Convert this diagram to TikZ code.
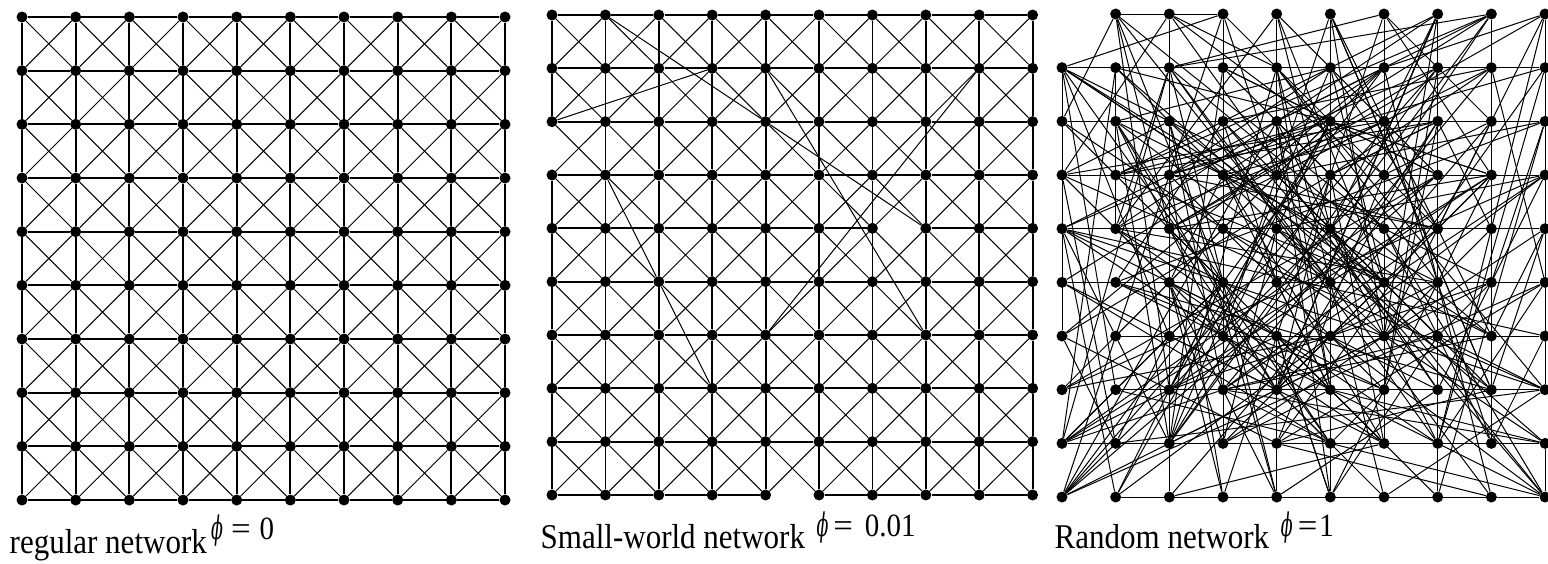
\documentclass[tikz,border=0pt]{standalone}
\usepackage{fontspec}
\setmainfont{Liberation Serif}
\newfontfamily\phifont{DejaVu Serif}
\newcommand{\phisym}{\scalebox{0.6}[1]{\phifont\itshape ϕ}}
\newcommand{\tallx}[1]{\scalebox{1}[1.12]{#1}}
\begin{document}
\begin{tikzpicture}[x=1pt,y=-1pt,
  dot/.style={circle,fill=black,draw=none,inner sep=0pt,minimum size=11pt},
  lat/.style={line width=1.8pt,black},
  dg/.style={line width=1.0pt,black},
  rw/.style={line width=1.0pt,black},
  lab/.style={font=\fontsize{31}{31}\selectfont,inner sep=0pt,anchor=base west},
  sup/.style={font=\fontsize{29}{29}\selectfont,inner sep=0pt,anchor=base west}]
\useasboundingbox (0,0) rectangle (1548,563);

% ---------- Panel 1: regular network ----------
\foreach \ro in {0,...,9}{\foreach \co in {0,...,9}{
  \node[dot] (A-\ro-\co) at ({22+53.67*\co},{17+53.67*\ro}) {};
}}
\foreach \ro in {0,...,9}{\foreach \co in {0,...,8}{
  \pgfmathtruncatemacro\cn{\co+1}
  \draw[lat] (A-\ro-\co) -- (A-\ro-\cn);
  \draw[lat] (A-\co-\ro) -- (A-\cn-\ro);
}}
\foreach \ro in {0,...,8}{\foreach \co in {0,...,8}{
  \pgfmathtruncatemacro\rn{\ro+1}\pgfmathtruncatemacro\cn{\co+1}
  \draw[dg] (A-\ro-\co) -- (A-\rn-\cn);
  \draw[dg] (A-\ro-\cn) -- (A-\rn-\co);
}}

% ---------- Panel 2: small-world network ----------
\foreach \ro in {0,...,9}{\foreach \co in {0,...,9}{
  \node[dot] (B-\ro-\co) at ({552+53.4*\co},{15+53.33*\ro}) {};
}}
\foreach \ro in {0,...,9}{\foreach \co in {0,...,8}{
  \pgfmathtruncatemacro\cn{\co+1}
  \pgfmathtruncatemacro\hskp{(\ro==9 && \co==4) || (\ro==4 && \co==6)}
  \pgfmathtruncatemacro\vskp{(\ro==0 && \co==2)}
  \ifnum\hskp=0 \draw[lat] (B-\ro-\co) -- (B-\ro-\cn);\fi
  \ifnum\vskp=0 \draw[lat] (B-\co-\ro) -- (B-\cn-\ro);\fi
}}
\foreach \ro in {0,...,8}{\foreach \co in {0,...,8}{
  \pgfmathtruncatemacro\rn{\ro+1}\pgfmathtruncatemacro\cn{\co+1}
  \draw[dg] (B-\ro-\co) -- (B-\rn-\cn);
  \draw[dg] (B-\ro-\cn) -- (B-\rn-\co);
}}
\draw[rw] (B-0-1) -- (B-2-4);
\draw[rw] (B-2-4) -- (B-4-7);
\draw[rw] (B-2-0) -- (B-1-3);
\draw[rw] (B-1-4) -- (B-6-7);
\draw[rw] (B-1-8) -- (B-6-4);
\draw[rw] (B-3-1) -- (B-5-2);
\draw[rw] (B-5-2) -- (B-7-3);

% ---------- Panel 3: random network ----------
\foreach \ro in {0,...,9}{\foreach \co in {0,...,9}{
  \pgfmathtruncatemacro\nid{10*\ro+\co}
  \ifnum\nid>0
    \node[dot] (C-\ro-\co) at ({1062+53.67*\co},{14+53.67*\ro}) {};
  \fi
}}
\pgfmathsetseed{4242}
\foreach \ro in {0,...,9}{\foreach \co in {0,...,9}{
  \pgfmathtruncatemacro\nid{10*\ro+\co}
  \pgfmathtruncatemacro\nf{(\co<9)+(\ro<9)+(\ro<9)*(\co<9)+(\ro<9)*(\co>0)}
  \ifnum\nid>0 \ifnum\nf>0
    \foreach \kk in {1,...,\nf}{
      \pgfmathrandominteger{\tg}{1}{98}
      \pgfmathtruncatemacro\tgt{\tg>=\nid ? \tg+1 : \tg}
      \pgfmathtruncatemacro\tr{div(\tgt,10)}
      \pgfmathtruncatemacro\tc{mod(\tgt,10)}
      \draw[rw] (C-\ro-\co) -- (C-\tr-\tc);
    }
  \fi\fi
}}
% edges of the random network that lie along rows and columns
\draw[rw] (C-0-1) -- (C-0-3);
\draw[rw] (C-1-0) -- (C-1-9);
\draw[rw] (C-2-0) -- (C-2-7);
\draw[rw] (C-3-0) -- (C-3-9);
\draw[rw] (C-4-0) -- (C-4-9);
\draw[rw] (C-5-0) -- (C-5-9);
\draw[rw] (C-6-1) -- (C-6-9);
\draw[rw] (C-7-1) -- (C-7-9);
\draw[rw] (C-8-0) -- (C-8-9);
\draw[rw] (C-9-1) -- (C-9-9);
\draw[rw] (C-0-3) -- (C-7-3);
\draw[rw] (C-1-4) -- (C-9-4);
\draw[rw] (C-3-5) -- (C-9-5);
\draw[rw] (C-0-6) -- (C-1-6);
\draw[rw] (C-0-7) -- (C-3-7);
\draw[rw] (C-0-8) -- (C-1-8);
\draw[rw] (C-8-9) -- (C-9-9);
\draw[rw] (C-3-0) -- (C-6-0);
\draw[rw] (C-2-2) -- (C-3-2);

% ---------- Labels ----------
\node[lab] (t1) at (9.5,553) {\tallx{regular network}};
\node[sup] (s1) at (211,539.3) {\tallx{\phisym\hspace{8pt}\scalebox{1.2}[1]{=}\hspace{9pt}0}};
\node[lab] (t2) at (540.5,548.3) {\tallx{Small-world network}};
\node[sup] (s2) at (816.3,536.7) {\tallx{\phisym\hspace{5pt}\scalebox{1.2}[1]{=}\hspace{12pt}0.01}};
\node[lab] (t3) at (1054.5,548.3) {\tallx{Random network}};
\node[sup] (s3) at (1280.7,536.7) {\tallx{\phisym\hspace{5pt}\scalebox{1.2}[1]{=}\hspace{2pt}1}};
\end{tikzpicture}
\end{document}
